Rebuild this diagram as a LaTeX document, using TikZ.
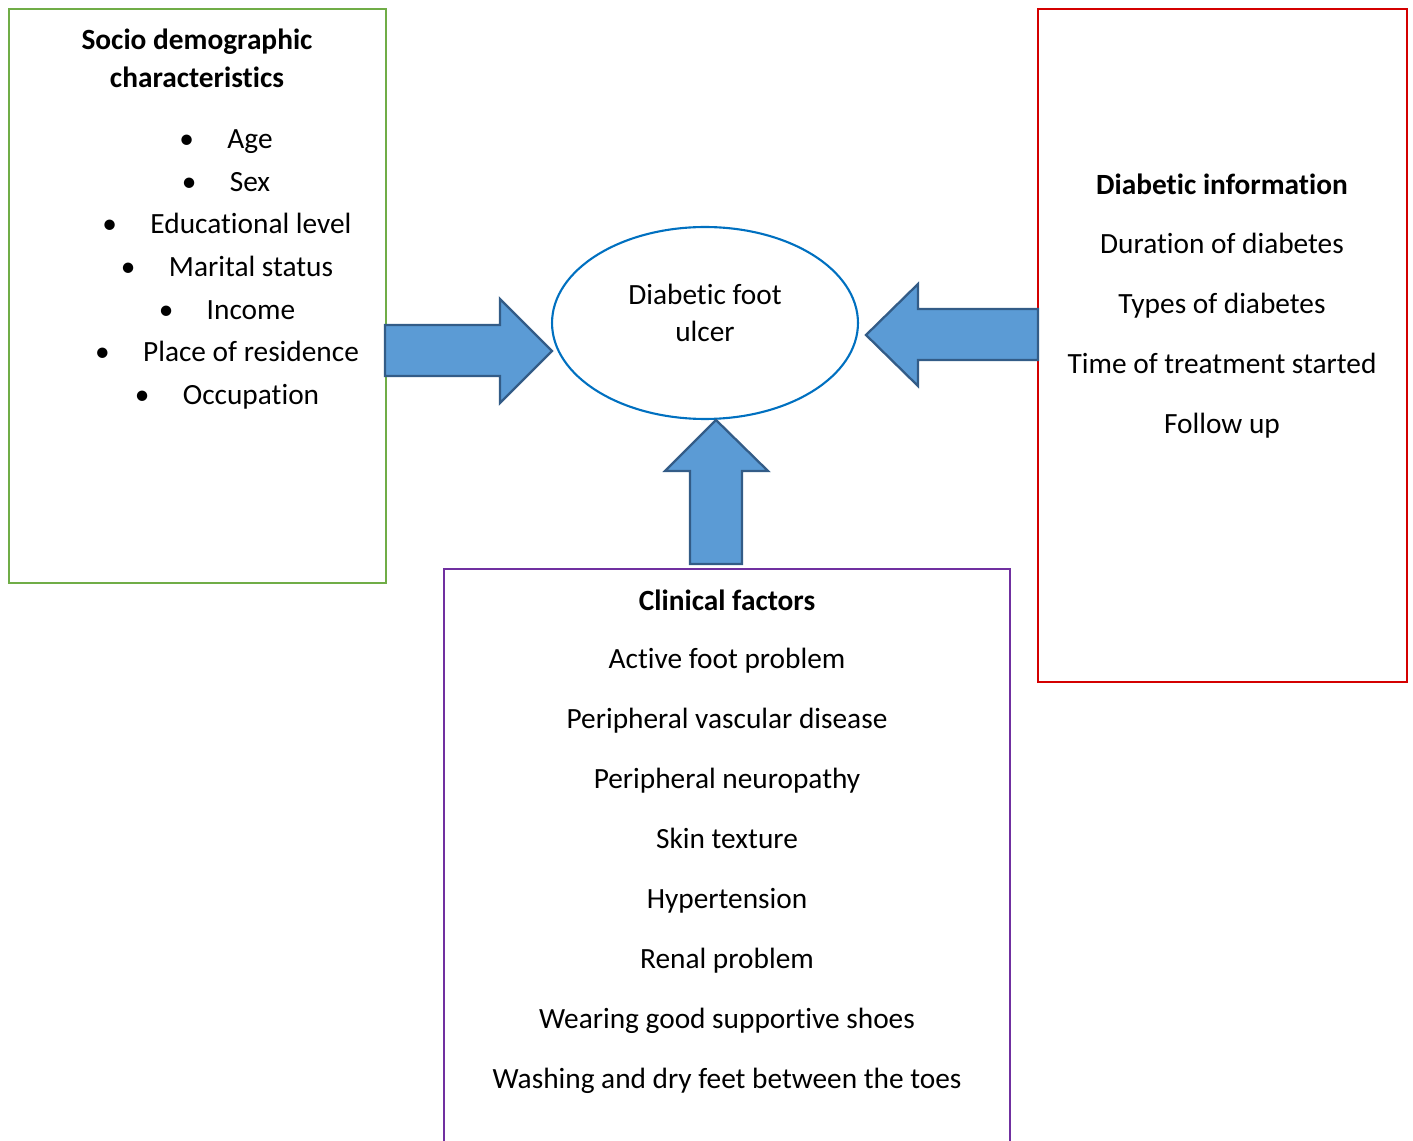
\documentclass[tikz,border=0pt]{standalone}
\usepackage{fontspec}
\setmainfont[Ligatures={NoCommon}]{Carlito}
\usetikzlibrary{shapes.geometric}
\definecolor{boxgreen}{HTML}{70AD47}
\definecolor{boxred}{HTML}{D40000}
\definecolor{boxpurple}{HTML}{7030A0}
\definecolor{ellblue}{HTML}{0070C0}
\definecolor{arrfill}{HTML}{5B9BD5}
\definecolor{arrline}{HTML}{335C87}
\newcommand{\bul}{\llap{\textbullet\hspace{19pt}}}
\tikzset{
  txt/.style={inner sep=0pt, yshift=-1.2pt, text height=11.5pt, text depth=3.5pt, font=\fontsize{16.7}{20}\selectfont},
  head/.style={inner sep=0pt, font=\fontsize{16.7}{21.5}\selectfont\bfseries, align=center},
  blkarrow/.style={draw=arrline, fill=arrfill, line width=1.3pt, line join=miter}
}
\begin{document}
\begin{tikzpicture}[x=0.02cm,y=-0.02cm]
\useasboundingbox (0,0) rectangle (1413,1141);
% frames
\draw[boxgreen, line width=1.2pt] (9,9) rectangle (386,583);
\draw[boxred, line width=1.2pt] (1038,9) rectangle (1407,682);
\draw[boxpurple, line width=1.2pt] (1010,1160) -- (1010,569) -- (444,569) -- (444,1160);
% centre
\node[ellipse, draw=ellblue, line width=1.2pt, minimum width=6.12cm, minimum height=3.84cm] (dfu) at (705,323) {};
\node[inner sep=0pt, align=center, font=\fontsize{16.7}{21.5}\selectfont] (dfutxt) at (705,313) {Diabetic foot\\ulcer};
% block arrows
\draw[blkarrow] (385,325) -- (500,325) -- (500,299) -- (552,351) -- (500,403) -- (500,376) -- (385,376) -- cycle;
\draw[blkarrow] (1038,309) -- (918,309) -- (918,284) -- (866,335) -- (918,386) -- (918,360) -- (1038,360) -- cycle;
\draw[blkarrow] (690,564) -- (690,471) -- (665,471) -- (716,420) -- (768,471) -- (742,471) -- (742,564) -- cycle;
% socio demographic
\node[head] (socio) at (197,58) {Socio demographic\\characteristics};
\node[txt] (age) at (250,139) {\bul Age};
\node[txt] (sex) at (250,182) {\bul Sex};
\node[txt] (edu) at (251,224) {\bul Educational level};
\node[txt] (mar) at (251,267) {\bul Marital status};
\node[txt] (inc) at (251,310) {\bul Income};
\node[txt] (res) at (251,352) {\bul Place of residence};
\node[txt] (occ) at (251,395) {\bul Occupation};
% diabetic information
\node[head] (dinfo) at (1222,184) {Diabetic information};
\node[txt] (dur) at (1222,244) {Duration of diabetes};
\node[txt] (typ) at (1222,304) {Types of diabetes};
\node[txt] (tim) at (1222,364) {Time of treatment started};
\node[txt] (fol) at (1222,424) {Follow up};
% clinical factors
\node[head] (clin) at (727,600) {Clinical factors};
\node[txt] (c1) at (727,659) {Active foot problem};
\node[txt] (c2) at (727,719) {Peripheral vascular disease};
\node[txt] (c3) at (727,779) {Peripheral neuropathy};
\node[txt] (c4) at (727,839) {Skin texture};
\node[txt] (c5) at (727,899) {Hypertension};
\node[txt] (c6) at (727,959) {Renal problem};
\node[txt] (c7) at (727,1019) {Wearing good supportive shoes};
\node[txt] (c8) at (727,1079) {Washing and dry feet between the toes};
\end{tikzpicture}
\end{document}
